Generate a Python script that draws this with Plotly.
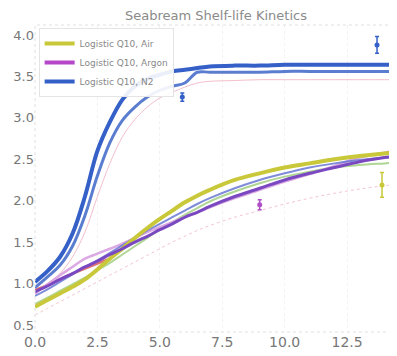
import plotly.graph_objects as go

# ---- data ----
days = [0, 0.5, 1, 1.5, 2, 2.5, 3, 3.5, 4, 4.5, 5, 5.5, 6, 6.5, 7, 8, 9, 10, 11, 12, 13, 14, 14.5]

air_fit   = [0.72, 0.80, 0.88, 0.96, 1.05, 1.17, 1.30, 1.42, 1.55, 1.67, 1.78, 1.88, 1.98, 2.06, 2.13, 2.25, 2.33, 2.40, 2.45, 2.50, 2.54, 2.57, 2.58]
argon_fit = [0.90, 0.97, 1.05, 1.12, 1.20, 1.27, 1.35, 1.42, 1.50, 1.57, 1.65, 1.72, 1.80, 1.86, 1.93, 2.05, 2.15, 2.25, 2.33, 2.40, 2.47, 2.52, 2.54]
n2_fit    = [1.02, 1.15, 1.32, 1.60, 2.05, 2.60, 2.95, 3.22, 3.38, 3.47, 3.52, 3.56, 3.58, 3.60, 3.62, 3.63, 3.63, 3.64, 3.64, 3.64, 3.64, 3.64, 3.64]

n2_alt    = [0.95, 1.08, 1.22, 1.45, 1.82, 2.30, 2.70, 2.97, 3.13, 3.25, 3.33, 3.38, 3.42, 3.55, 3.55, 3.55, 3.55, 3.56, 3.56, 3.56, 3.56, 3.56, 3.56]
n2_faint  = [0.90, 1.00, 1.12, 1.32, 1.62, 2.05, 2.45, 2.77, 2.98, 3.13, 3.24, 3.31, 3.37, 3.42, 3.44, 3.45, 3.46, 3.46, 3.46, 3.46, 3.46, 3.46, 3.46]
argon_alt = [0.88, 0.99, 1.10, 1.20, 1.30, 1.36, 1.42, 1.48, 1.55, 1.62, 1.68, 1.74, 1.80, 1.86, 1.92, 2.03, 2.13, 2.23, 2.32, 2.42, 2.52, 2.58, 2.61]
air_alt   = [0.75, 0.83, 0.91, 0.99, 1.07, 1.16, 1.25, 1.35, 1.45, 1.55, 1.65, 1.74, 1.83, 1.91, 1.99, 2.11, 2.21, 2.29, 2.35, 2.40, 2.43, 2.45, 2.46]
mid_blue  = [0.85, 0.93, 1.02, 1.11, 1.20, 1.28, 1.37, 1.46, 1.55, 1.64, 1.72, 1.80, 1.88, 1.96, 2.03, 2.15, 2.25, 2.33, 2.40, 2.45, 2.49, 2.52, 2.53]
red_early = [0.92, 0.98, 1.05, 1.12, 1.18, 1.24, 1.30]
days_early = [0, 0.5, 1, 1.5, 2, 2.5, 3]
faint_low = [0.62, 0.70, 0.78, 0.86, 0.94, 1.02, 1.10, 1.18, 1.26, 1.34, 1.42, 1.50, 1.57, 1.64, 1.70, 1.80, 1.88, 1.96, 2.03, 2.09, 2.14, 2.18, 2.20]

obs_days  = [13.7, 5.9, 9.0, 13.9]
obs_vals  = [3.88, 3.25, 1.95, 2.19]
obs_err   = [0.10, 0.05, 0.06, 0.15]
obs_cols  = ["#3560c8", "#3560c8", "#b050c8", "#c8c83a"]

y_ticks = [0.5, 1.0, 1.5, 2.0, 2.5, 3.0, 3.5, 4.0]
y_tick_labels = ["0.5", "1.0", "1.5", "2.0", "2.5", "3.0", "3.5", "4.0"]
x_ticks = [0, 2.5, 5, 7.5, 10, 12.5]
x_tick_labels = ["0.0", "2.5", "5.0", "7.5", "10.0", "12.5"]

YELLOW = "#c8c83a"
MAGENTA = "#b448c8"
BLUE = "#3560c8"

fig = go.Figure()

def line(x, y, color, width, name=None, show=False, dash="solid", opacity=1.0):
    fig.add_trace(go.Scatter(x=x, y=y, mode="lines", name=name, showlegend=show,
                             line=dict(color=color, width=width, shape="spline", dash=dash),
                             opacity=opacity, hoverinfo="skip"))

# faint background lines
line(days, faint_low, "#f0b8c8", 1, dash="dot", opacity=0.8)
line(days, n2_faint, "#f0b0c0", 1, opacity=0.8)
line(days_early, red_early, "#d85050", 2.5, opacity=0.8)
line(days, air_alt, "#9ccc7a", 2, opacity=0.8)
line(days, argon_alt, "#d8a0e0", 2.5, opacity=0.9)
line(days, mid_blue, "#6070d0", 2, opacity=0.8)
line(days, n2_alt, "#4a70cc", 3, opacity=0.9)

# main fitted curves
line(days, air_fit, YELLOW, 4, name="Logistic Q10, Air", show=True)
line(days, argon_fit, "#7a48c0", 3)
line(days, n2_fit, BLUE, 4)

# legend entries in the reference order
fig.add_trace(go.Scatter(x=[None], y=[None], mode="lines", name="Logistic Q10, Argon",
                         line=dict(color=MAGENTA, width=4)))
fig.add_trace(go.Scatter(x=[None], y=[None], mode="lines", name="Logistic Q10, N2",
                         line=dict(color=BLUE, width=4)))

for d, v, e, c in zip(obs_days, obs_vals, obs_err, obs_cols):
    fig.add_trace(go.Scatter(x=[d], y=[v], mode="markers", showlegend=False,
                             marker=dict(color=c, size=5),
                             error_y=dict(type="constant", value=e, color=c, thickness=1.5, width=2),
                             hoverinfo="skip"))

fig.update_layout(
    width=389, height=348,
    margin=dict(l=27, r=0, t=17, b=24),
    paper_bgcolor="white", plot_bgcolor="white",
    title=dict(text="Seabream Shelf-life Kinetics", x=0.5, xref="paper", y=0.98, yanchor="middle",
               font=dict(family="DejaVu Sans", size=13, color="#8a8a8a")),
    font=dict(family="DejaVu Sans", color="#666"),
    showlegend=True,
    legend=dict(x=0.01, y=0.99, xanchor="left", yanchor="top", bgcolor="rgba(255,255,255,0.9)",
                bordercolor="#e4e4e4", borderwidth=1, font=dict(size=9, color="#888"),
                tracegroupgap=0, itemwidth=30),
)
fig.update_xaxes(range=[0, 14.5], tickvals=x_ticks, ticktext=x_tick_labels,
                 showgrid=True, gridcolor="#f2f2f2", griddash="dot", zeroline=False,
                 tickfont=dict(size=14, color="#777"), automargin=False)
fig.update_yaxes(range=[0.415, 4.12], tickvals=y_ticks, ticktext=y_tick_labels,
                 showgrid=False, zeroline=False,
                 tickfont=dict(size=13, color="#777"), automargin=False)
fig.add_shape(type="rect", xref="paper", yref="paper", x0=0, y0=0, x1=1, y1=1,
              line=dict(color="#e0e0e0", width=1, dash="dot"))

fig.write_html("out.html")
